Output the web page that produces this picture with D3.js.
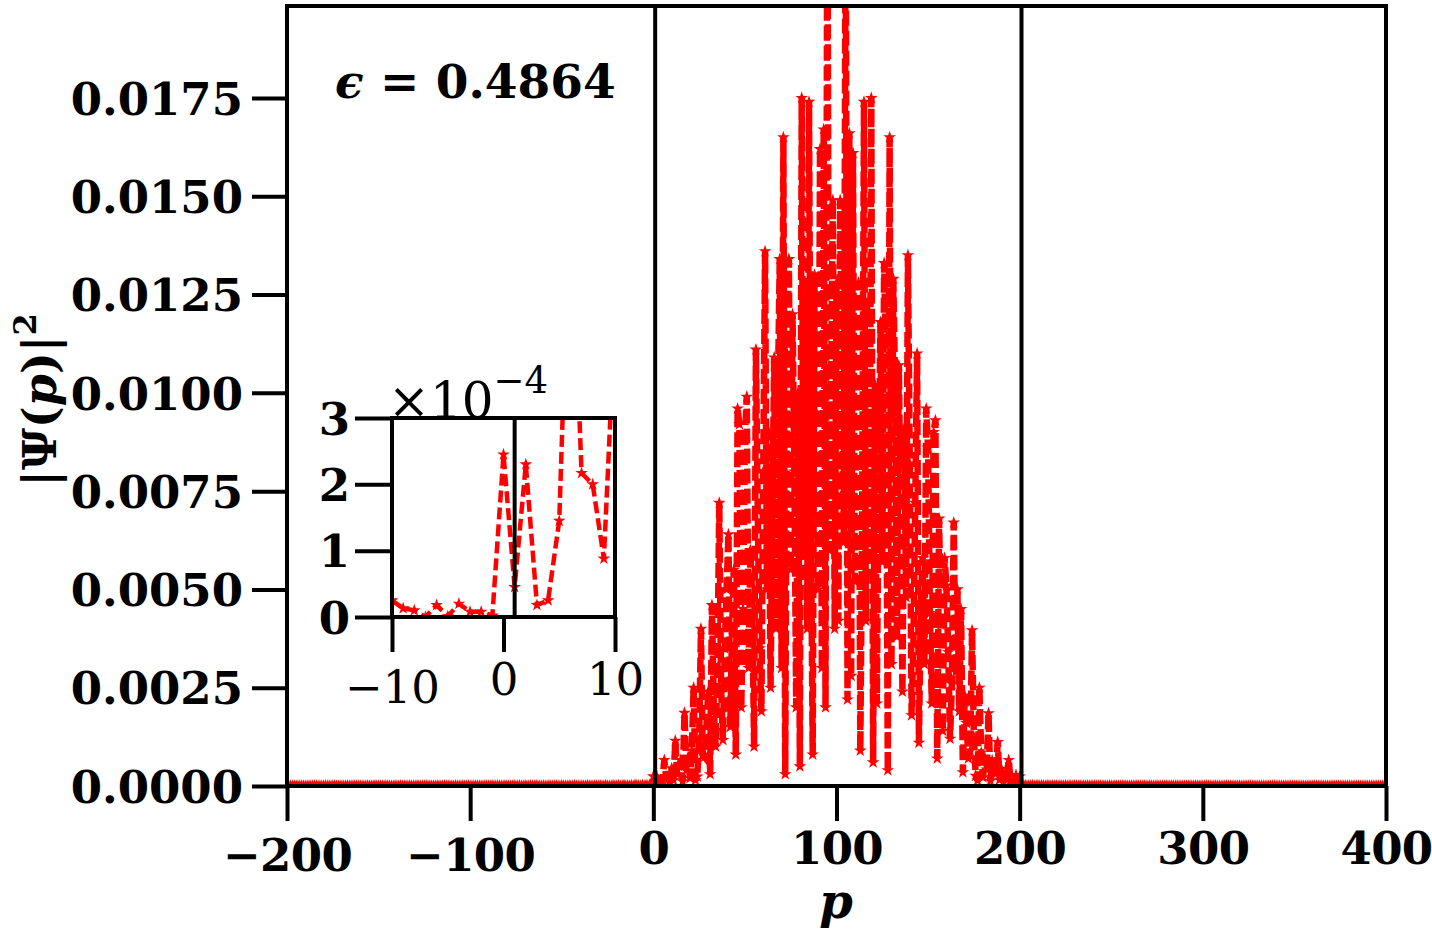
<!DOCTYPE html>
<html>
<head>
<meta charset="utf-8">
<script src="https://cdn.jsdelivr.net/npm/d3@7"></script>
<style>
  body { margin: 0; background: #fff; }
  svg { display: block; }
  text { font-family: "DejaVu Serif", serif; font-weight: bold; fill: #000; }
</style>
</head>
<body>
<div id="chart"></div>
<script>
// momentum distribution |Psi(p)|^2
var pFirst = -200;

// p = -200 .. -1, units of 1e-6
var tailLeft = [
  3,1,4,2,0,5,2,1,6,3,0,2,5,1,3,7,2,0,4,1,
  2,6,1,3,0,4,8,2,1,5,3,0,2,6,1,4,2,7,0,3,
  5,1,2,0,6,3,1,4,9,2,0,3,5,1,7,2,4,0,3,6,
  1,2,8,0,4,3,1,6,2,5,0,9,3,1,4,2,7,0,5,3,
  2,0,6,4,1,3,10,2,0,5,3,1,8,2,4,0,6,3,1,7,
  0,4,2,9,1,3,5,0,7,2,4,1,11,3,0,6,2,5,1,8,
  3,0,5,2,12,1,4,6,0,3,9,2,1,7,4,0,13,2,5,1,
  6,3,0,10,2,4,1,8,3,0,14,2,5,1,9,3,0,12,4,2,
  1,7,3,0,15,2,6,1,11,4,0,9,3,2,16,1,5,0,12,3,
  2,14,0,6,18,1,9,3,17,4,
  25,13,10,0,18,1,20,8,8,2
];

// p = 0 .. 200, units of 1e-4
var core = [
  2.45, 0.45, 2.3, 0.18, 0.25, 1.45, 6.6, 2.17, 2.0, 0.88,
  4.5, 1.5, 11.5, 3.0, 5.0, 6.6, 1.2, 18.6, 4.0, 7.4,
  2.0, 9.0, 25.0, 1.5, 2.4, 12.0, 40.0, 8.0, 7.4, 15.0,
  24.0, 3.0, 46.0, 20.0, 10.0, 30.0, 72.0, 25.0, 11.7, 35.0,
  50.0, 64.0, 15.0, 40.0, 55.0, 8.0, 96.0, 92.0, 20.0, 45.0,
  88.0, 99.0, 30.0, 60.0, 47.0, 10.0, 111.0, 70.0, 35.0, 19.0,
  80.0, 136.0, 50.0, 90.0, 25.0, 70.0, 109.0, 40.0, 100.0, 134.0,
  30.0, 165.0, 3.0, 110.0, 134.0, 55.0, 120.0, 80.0, 20.0, 100.0,
  5.0, 175.0, 60.0, 125.0, 40.0, 174.0, 70.0, 8.0, 130.0, 95.0,
  50.0, 162.0, 30.0, 167.0, 20.0, 240.0, 60.0, 100.0, 149.0, 40.0,
  128.0,
  42.0, 149.0, 98.0, 62.0, 235.0, 22.0, 166.0, 28.0, 161.0, 52.0,
  97.0, 128.0, 9.0, 68.0, 174.0, 42.0, 122.0, 58.0, 175.0, 6.0,
  102.0, 21.0, 78.0, 118.0, 57.0, 133.0, 108.0, 4.0, 165.0, 31.0,
  129.0, 102.0, 38.0, 107.0, 72.0, 24.0, 91.0, 48.0, 135.0, 82.0,
  18.0, 36.0, 72.0, 110.0, 11.0, 46.0, 58.0, 31.0, 96.0, 86.0,
  44.0, 21.0, 90.0, 93.0, 7.0, 68.0, 41.0, 14.0, 58.0, 51.0,
  34.0, 12.0, 26.0, 67.0, 29.0, 50.0, 19.0, 45.0, 3.5, 23.0,
  16.0, 7.0, 9.0, 39.6, 12.5, 2.6, 1.4, 25.0, 8.5, 2.2,
  7.2, 4.2, 18.5, 1.3, 6.5, 4.8, 3.1, 11.2, 1.6, 4.4,
  0.9, 2.1, 2.2, 6.6, 1.5, 0.3, 0.2, 2.8, 0.5, 2.4
];

// p = 201 .. 400, units of 1e-6
var tailRight = [
  15,4,19,2,11,7,16,1,9,13,3,14,6,1,12,8,2,10,5,11,
  1,9,6,3,12,2,7,10,0,8,5,2,11,3,6,1,9,4,7,2,
  8,0,5,9,2,6,3,1,10,4,0,7,3,5,1,8,2,6,0,4,
  7,1,3,9,2,5,0,6,3,1,8,2,4,0,7,3,1,5,2,6,
  0,4,8,1,3,6,2,0,5,3,1,7,2,4,0,6,1,3,5,0,
  2,6,1,4,0,3,7,2,5,1,0,4,6,2,3,1,5,0,2,4,
  3,1,5,2,0,6,1,3,4,0,2,5,1,3,0,4,2,1,6,2,
  0,3,1,4,2,5,0,2,3,1,4,0,2,5,1,3,0,2,4,1,
  2,0,3,1,5,2,0,4,1,3,2,0,1,4,2,0,3,1,2,0,
  1,3,0,2,4,1,0,3,2,1,0,2,3,1,0,2,1,3,0,1
];

var xTicks = [-200, -100, 0, 100, 200, 300, 400];
var yTicks = [0, 0.0025, 0.005, 0.0075, 0.01, 0.0125, 0.015, 0.0175];
var insetXTicks = [-10, 0, 10];
var insetYTicks = [0, 1e-4, 2e-4, 3e-4];
var boundaries = [1, 201];
var epsValue = "0.4864";

var width = 1432, height = 934;
var red = "#ff0000";
var lw = 4;

var values = tailLeft.map(function(v) { return v * 1e-6; })
  .concat(core.map(function(v) { return v * 1e-4; }))
  .concat(tailRight.map(function(v) { return v * 1e-6; }));
var data = values.map(function(v, i) { return { p: pFirst + i, v: v }; });

var svg = d3.select("#chart").append("svg")
  .attr("width", width)
  .attr("height", height)
  .style("background", "white");

var defs = svg.append("defs");

// main axes
var x = d3.scaleLinear().domain([-200, 400]).range([287, 1386]);
var y = d3.scaleLinear().domain([0, 0.01984]).range([786, 6]);

defs.append("clipPath").attr("id", "clipMain")
  .append("rect")
  .attr("x", x.range()[0]).attr("y", y.range()[1])
  .attr("width", x.range()[1] - x.range()[0])
  .attr("height", y.range()[0] - y.range()[1]);

function drawSeries(g, xs, ys, rows, sw, dash) {
  var line = d3.line()
    .x(function(d) { return xs(d.p); })
    .y(function(d) { return ys(d.v); });
  g.append("path")
    .datum(rows)
    .attr("d", line)
    .attr("fill", "none")
    .attr("stroke", red)
    .attr("stroke-width", sw)
    .attr("stroke-dasharray", dash)
    .attr("stroke-linejoin", "miter");
  g.selectAll("path.star")
    .data(rows)
    .enter()
    .append("path")
    .attr("class", "star")
    .attr("d", d3.symbol(d3.symbolStar, 50))
    .attr("transform", function(d) { return "translate(" + xs(d.p) + "," + ys(d.v) + ")"; })
    .attr("fill", red);
}

var main = svg.append("g").attr("clip-path", "url(#clipMain)");
drawSeries(main, x, y, data, 6.5, "15,5");

main.selectAll("line.bound")
  .data(boundaries)
  .enter()
  .append("line")
  .attr("class", "bound")
  .attr("x1", function(d) { return x(d); })
  .attr("x2", function(d) { return x(d); })
  .attr("y1", y.range()[0]).attr("y2", y.range()[1])
  .attr("stroke", "#000")
  .attr("stroke-width", lw);

function styleAxis(g) {
  g.select(".domain").remove();
  g.selectAll(".tick line").attr("stroke", "#000").attr("stroke-width", lw);
  g.selectAll(".tick text")
    .attr("fill", "#000")
    .style("font-family", "'DejaVu Serif', serif")
    .style("font-weight", "bold")
    .style("font-size", "45px");
}

var xAxis = svg.append("g")
  .attr("transform", "translate(0," + y.range()[0] + ")")
  .call(d3.axisBottom(x).tickValues(xTicks).tickSize(35).tickSizeOuter(0).tickFormat(d3.format("d")));
styleAxis(xAxis);
xAxis.selectAll(".tick text")
  .style("letter-spacing", "-0.6px")
  .attr("y", function(d) { return d < 0 ? 85 : 78; })
  .attr("dy", 0);

var yAxis = svg.append("g")
  .attr("transform", "translate(" + x.range()[0] + ",0)")
  .call(d3.axisLeft(y).tickValues(yTicks).tickSize(35).tickSizeOuter(0).tickFormat(d3.format(".4f")));
styleAxis(yAxis);
yAxis.selectAll(".tick text")
  .attr("x", -44)
  .attr("dy", "0.36em");

svg.append("rect")
  .attr("x", x.range()[0]).attr("y", y.range()[1])
  .attr("width", x.range()[1] - x.range()[0])
  .attr("height", y.range()[0] - y.range()[1])
  .attr("fill", "none")
  .attr("stroke", "#000")
  .attr("stroke-width", lw);

// labels
svg.append("text")
  .attr("x", 836).attr("y", 918)
  .attr("text-anchor", "middle")
  .style("font-size", "48px")
  .style("font-style", "italic")
  .text("p");

var yl = svg.append("text")
  .attr("transform", "translate(56,400) rotate(-90)")
  .attr("text-anchor", "middle")
  .style("font-size", "46px");
yl.append("tspan").text("|\u03A8(");
yl.append("tspan").style("font-style", "italic").text("p");
yl.append("tspan").text(")|");
yl.append("tspan").attr("dy", -20).style("font-size", "32px").text("2");

var eps = svg.append("text")
  .attr("x", 335).attr("y", 98)
  .style("font-size", "47px");
eps.append("tspan").style("font-style", "italic").text("\u03F5");
eps.append("tspan").text(" = " + epsValue);

// inset
var xi = d3.scaleLinear().domain([-10, 10]).range([392, 615]);
var yi = d3.scaleLinear().domain([0, 3e-4]).range([617, 418]);

svg.append("rect")
  .attr("x", xi.range()[0]).attr("y", yi.range()[1])
  .attr("width", xi.range()[1] - xi.range()[0])
  .attr("height", yi.range()[0] - yi.range()[1])
  .attr("fill", "white");

defs.append("clipPath").attr("id", "clipInset")
  .append("rect")
  .attr("x", xi.range()[0]).attr("y", yi.range()[1])
  .attr("width", xi.range()[1] - xi.range()[0])
  .attr("height", yi.range()[0] - yi.range()[1]);

var insetRows = data.filter(function(d) { return d.p >= -11 && d.p <= 11; });
var inset = svg.append("g").attr("clip-path", "url(#clipInset)");
drawSeries(inset, xi, yi, insetRows, 4.5, "12,5");

inset.selectAll("line.bound")
  .data(boundaries)
  .enter()
  .append("line")
  .attr("class", "bound")
  .attr("x1", function(d) { return xi(d); })
  .attr("x2", function(d) { return xi(d); })
  .attr("y1", yi.range()[0]).attr("y2", yi.range()[1])
  .attr("stroke", "#000")
  .attr("stroke-width", lw);

var xiAxis = svg.append("g")
  .attr("transform", "translate(0," + yi.range()[0] + ")")
  .call(d3.axisBottom(xi).tickValues(insetXTicks).tickSize(35).tickSizeOuter(0).tickFormat(d3.format("d")));
styleAxis(xiAxis);
xiAxis.selectAll(".tick text")
  .style("font-weight", "normal")
  .attr("y", function(d) { return d < 0 ? 86 : 78; })
  .attr("dy", 0);

var yiAxis = svg.append("g")
  .attr("transform", "translate(" + xi.range()[0] + ",0)")
  .call(d3.axisLeft(yi).tickValues(insetYTicks).tickSize(37).tickSizeOuter(0)
    .tickFormat(function(d) { return d3.format("d")(Math.round(d * 1e4)); }));
styleAxis(yiAxis);
yiAxis.selectAll(".tick text")
  .attr("x", -42)
  .attr("dy", "0.36em");

svg.append("rect")
  .attr("x", xi.range()[0]).attr("y", yi.range()[1])
  .attr("width", xi.range()[1] - xi.range()[0])
  .attr("height", yi.range()[0] - yi.range()[1])
  .attr("fill", "none")
  .attr("stroke", "#000")
  .attr("stroke-width", lw);

var mult = svg.append("text")
  .attr("x", 388).attr("y", 418)
  .style("font-weight", "normal")
  .style("font-size", "50px");
mult.append("tspan").text("\u00D710");
mult.append("tspan").attr("dy", -25).style("font-size", "37px").text("\u22124");
</script>
</body>
</html>
